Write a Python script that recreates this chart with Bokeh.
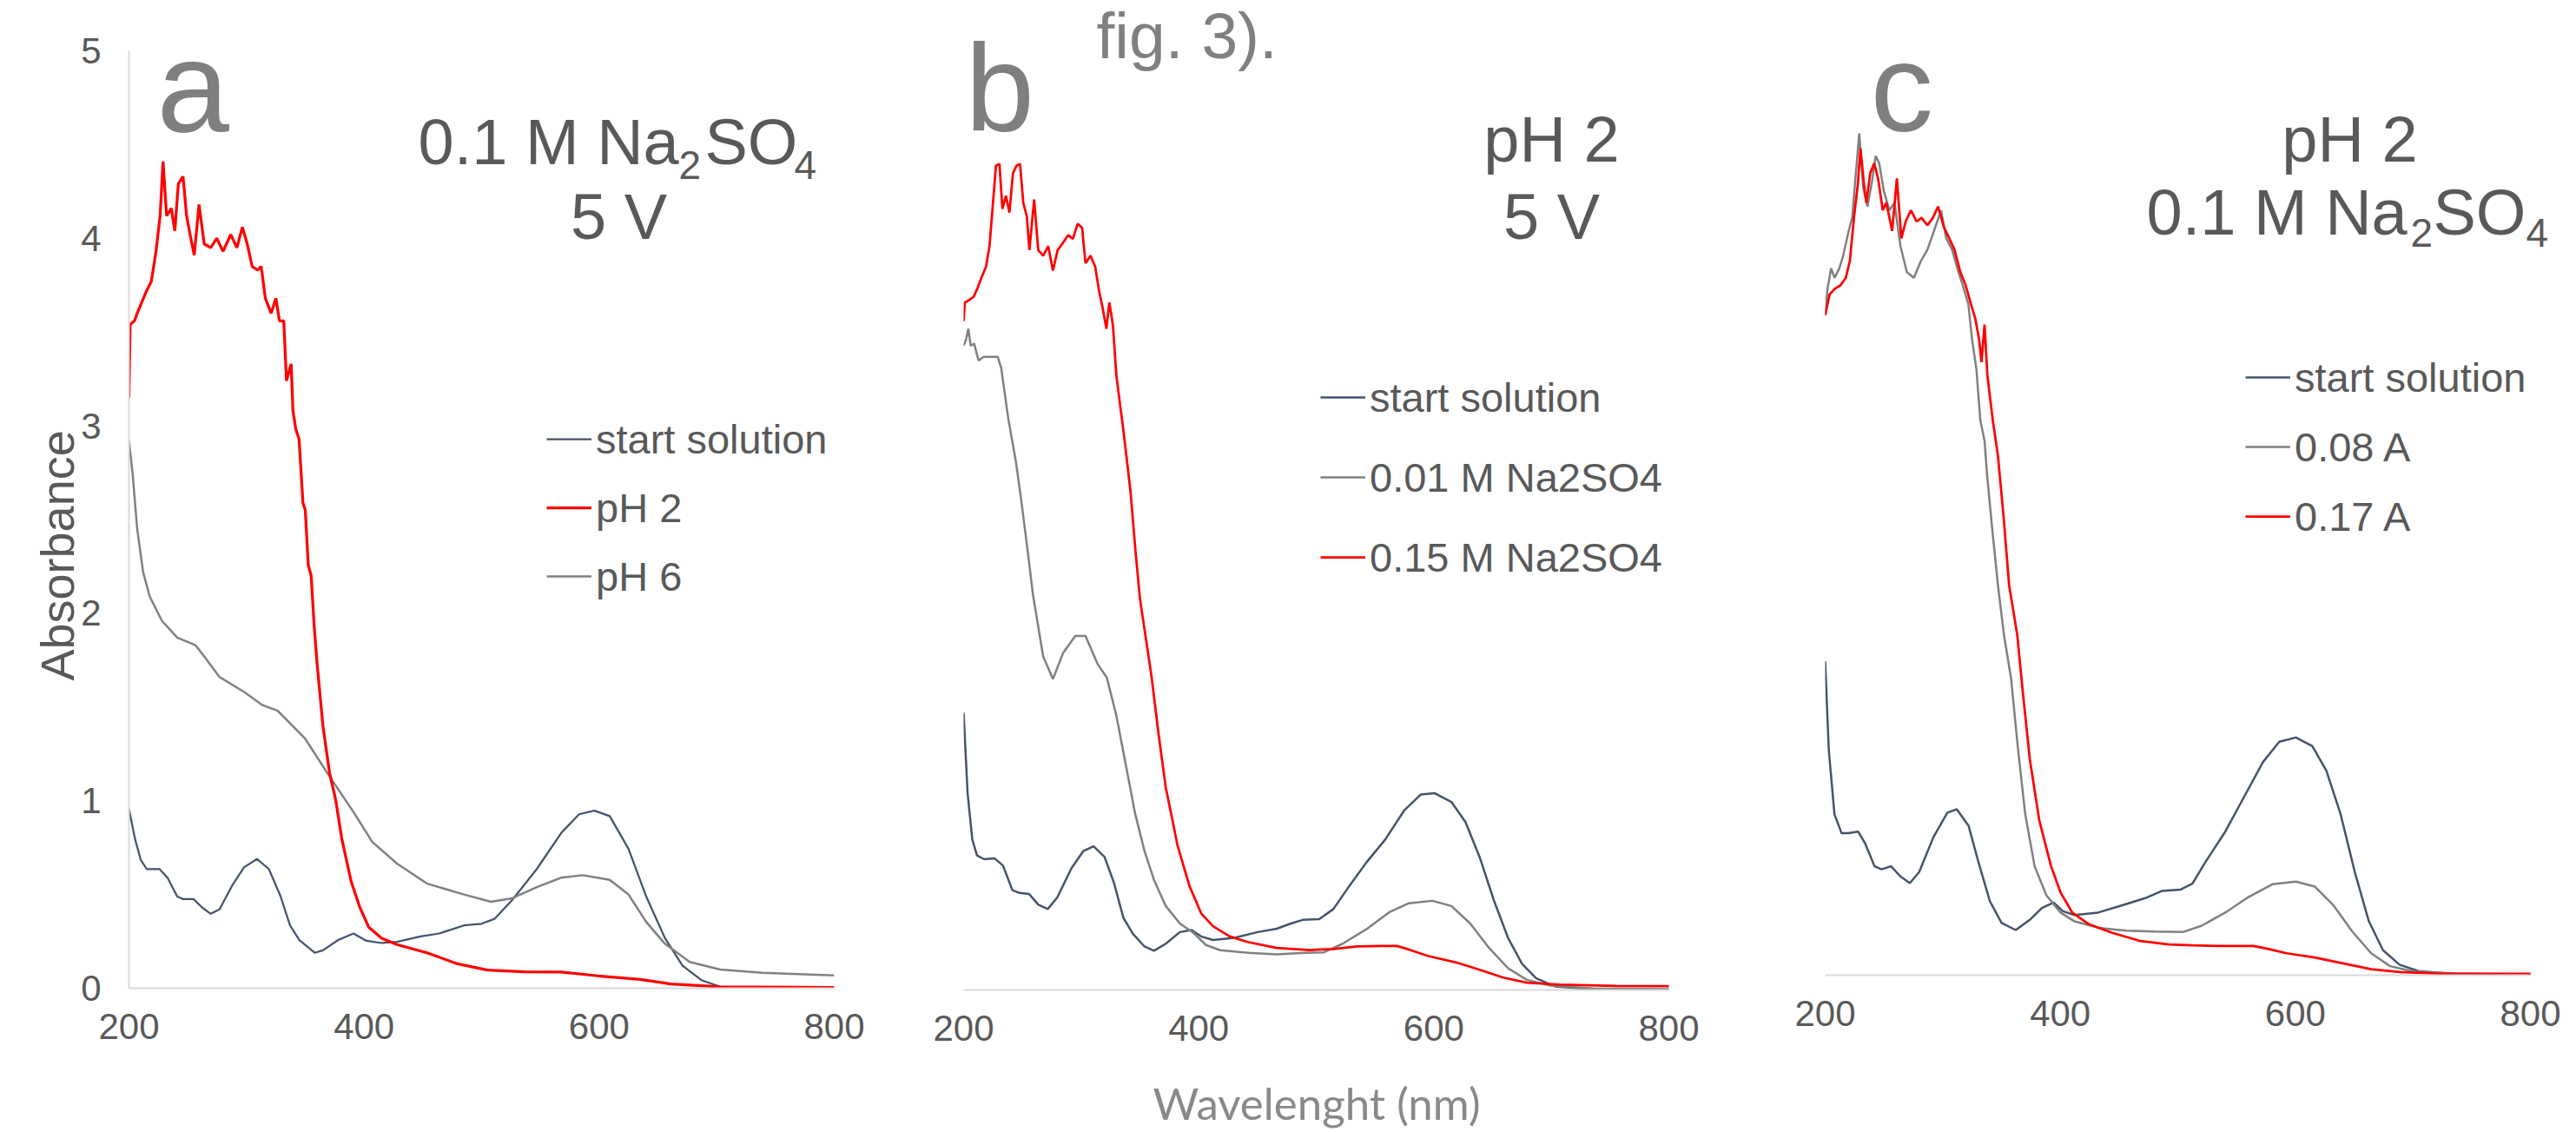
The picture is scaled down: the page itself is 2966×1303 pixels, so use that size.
import math
from bokeh.plotting import figure
from bokeh.layouts import row
from bokeh.models import Label, Legend, LegendItem, Range1d, FixedTicker, Title
from bokeh.embed import file_html
from bokeh.resources import INLINE

# ---------------- data ----------------
X_TICKS = [200, 400, 600, 800]
Y_TICKS_A = [0, 1, 2, 3, 4, 5]

# panel a
A_START_WL = [200, 205, 210, 215, 226, 233, 241, 246, 255, 262, 269.5, 277, 288, 298, 309, 319, 329, 337, 345,
              358, 365, 378, 391, 402, 415, 428, 448, 464, 485, 500, 511, 526, 547, 568, 583, 596, 609, 625,
              640, 656, 671, 687, 703, 739, 800]
A_START_ABS = [0.957, 0.80, 0.685, 0.636, 0.636, 0.587, 0.49, 0.475, 0.475, 0.432, 0.397, 0.42, 0.55, 0.646,
               0.689, 0.636, 0.49, 0.335, 0.257, 0.189, 0.202, 0.257, 0.292, 0.253, 0.241, 0.247, 0.276, 0.292,
               0.335, 0.344, 0.37, 0.47, 0.636, 0.83, 0.928, 0.947, 0.918, 0.743, 0.49, 0.267, 0.12, 0.043,
               0.008, 0.0, 0.0]
A_PH2_WL = [200, 201, 204.7, 207, 211, 215, 219, 223, 226.5, 229, 232, 236, 239, 242, 246, 249, 252, 255.5,
            259.6, 264, 269.5, 274.7, 280, 286.6, 291.8, 296.5, 300.6, 304.8, 309.4, 312.5, 316, 321, 325, 328,
            331.7, 334, 338, 339.5, 342, 344.7, 348, 350, 352.5, 355, 357.6, 360, 365, 370.6, 376, 381, 389,
            396.5, 404, 415, 428, 453.6, 479.5, 505, 536.6, 567.7, 599, 635, 661, 703, 800]
A_PH2_ABS = [3.15, 3.54, 3.56, 3.60, 3.66, 3.72, 3.77, 3.93, 4.12, 4.41, 4.12, 4.16, 4.04, 4.29, 4.33, 4.12,
             4.02, 3.91, 4.18, 3.97, 3.95, 4.00, 3.93, 4.02, 3.95, 4.06, 3.97, 3.85, 3.83, 3.85, 3.68, 3.60,
             3.68, 3.56, 3.56, 3.24, 3.33, 3.08, 2.98, 2.93, 2.59, 2.55, 2.26, 2.20, 1.93, 1.735, 1.40, 1.15,
             1.00, 0.80, 0.57, 0.43, 0.325, 0.267, 0.233, 0.189, 0.13, 0.097, 0.088, 0.086, 0.066, 0.047,
             0.023, 0.008, 0.004]
A_PH6_WL = [200, 203, 207, 212, 217.6, 228, 241, 256.5, 264, 277, 298, 313.6, 326.5, 350, 370.6, 391, 407,
            428, 453.6, 485, 508, 526, 547, 568, 586, 609, 625, 640, 656, 677, 703, 739, 800]
A_PH6_ABS = [2.92, 2.75, 2.45, 2.22, 2.09, 1.96, 1.87, 1.83, 1.77, 1.66, 1.58, 1.51, 1.48, 1.33, 1.13, 0.94,
             0.78, 0.665, 0.558, 0.50, 0.461, 0.48, 0.539, 0.59, 0.603, 0.578, 0.50, 0.354, 0.237, 0.14, 0.10,
             0.082, 0.068]

# panel b
B_START_WL = [200, 203.4, 207.4, 211.4, 217.4, 226.3, 233.5, 241.5, 247.5, 255.6, 263.6, 271.6, 279.7, 291.7,
              301.8, 310.6, 319.9, 327.9, 335.9, 343.9, 353.9, 362, 372, 384, 394, 402, 412.2, 430.3, 450.3,
              466.4, 478.5, 488.5, 502.5, 514.6, 526.6, 542.6, 558.7, 574.8, 588.9, 600.9, 615, 627, 639,
              651.1, 663.2, 675.2, 687.2, 703.3, 735.4, 800]
B_START_ABS = [1.48, 1.05, 0.803, 0.718, 0.698, 0.703, 0.664, 0.533, 0.518, 0.513, 0.455, 0.432, 0.494, 0.649,
               0.741, 0.767, 0.71, 0.572, 0.386, 0.301, 0.232, 0.209, 0.247, 0.309, 0.32, 0.286, 0.267, 0.278,
               0.309, 0.327, 0.355, 0.374, 0.378, 0.432, 0.541, 0.68, 0.803, 0.958, 1.043, 1.05, 1.004, 0.896,
               0.71, 0.479, 0.278, 0.139, 0.062, 0.019, 0.003, 0.0]
B_LOW_WL = [200, 202, 204, 206, 209, 212.7, 217, 223, 229, 232, 238, 244.5, 248.7, 255, 259, 267.7, 276,
            284.7, 295, 303.7, 314, 321.8, 329.9, 337.9, 345.9, 353.9, 362, 372, 384, 396.2, 406.2, 418.2,
            442.3, 466.4, 490.5, 506.5, 522.5, 542.6, 562.7, 578.8, 598.9, 615, 631, 647.1, 663.2, 679.2,
            699.3, 735.4, 800]
B_LOW_ABS = [3.44, 3.47, 3.53, 3.44, 3.45, 3.36, 3.38, 3.38, 3.38, 3.32, 3.05, 2.82, 2.63, 2.32, 2.11, 1.78,
             1.66, 1.80, 1.89, 1.89, 1.74, 1.668, 1.467, 1.205, 0.942, 0.741, 0.587, 0.448, 0.355, 0.301, 0.24,
             0.212, 0.198, 0.19, 0.198, 0.201, 0.247, 0.324, 0.417, 0.463, 0.476, 0.448, 0.355, 0.224, 0.116,
             0.054, 0.023, 0.008, 0.005]
B_HIGH_WL = [200, 201, 204, 208.5, 212, 215, 219, 222, 224.6, 227.5, 230.5, 233, 236, 239, 242, 245, 248,
             250.8, 253.8, 256, 260, 263.5, 267.7, 272, 276, 280, 284.7, 289, 293, 297, 300.8, 303.7, 308,
             312, 315, 318.6, 321.5, 324, 327, 330, 333, 335.5, 337.6, 342, 346, 350, 360, 366, 372, 382,
             392.1, 402.1, 412.2, 426.3, 442.3, 466.4, 494.5, 514.6, 534.7, 554.7, 568.8, 578.8, 594.8, 619,
             639, 659.1, 679.2, 707.4, 755.5, 800]
B_HIGH_ABS = [3.57, 3.67, 3.68, 3.70, 3.75, 3.80, 3.86, 3.97, 4.17, 4.40, 4.41, 4.17, 4.24, 4.15, 4.36, 4.40,
              4.41, 4.20, 4.13, 3.95, 4.22, 3.95, 3.92, 3.97, 3.84, 3.95, 3.99, 4.03, 4.01, 4.09, 4.07, 3.88,
              3.92, 3.86, 3.74, 3.63, 3.53, 3.67, 3.55, 3.28, 3.13, 3.01, 2.90, 2.66, 2.36, 2.09, 1.668, 1.359,
              1.081, 0.772, 0.556, 0.409, 0.34, 0.286, 0.255, 0.224, 0.213, 0.219, 0.232, 0.235, 0.235, 0.216,
              0.182, 0.147, 0.108, 0.066, 0.039, 0.028, 0.022, 0.02]

# panel c
C_START_WL = [200, 203.1, 207.9, 213.9, 219.9, 228, 233.9, 242, 248, 256, 264, 272, 280, 292, 304, 312, 322,
              330, 340.1, 350.1, 362.1, 374.1, 384.2, 394.2, 402.2, 412.2, 432.2, 452.2, 472.3, 486.3, 502.4,
              512.4, 524.4, 540.4, 556.4, 572.5, 586.4, 600.5, 614.5, 626.5, 638.5, 650.6, 662.6, 674.6,
              688.6, 704.6, 736.7, 800]
C_START_ABS = [1.674, 1.199, 0.859, 0.758, 0.758, 0.766, 0.704, 0.581, 0.565, 0.581, 0.527, 0.491, 0.55,
               0.735, 0.867, 0.885, 0.797, 0.612, 0.395, 0.279, 0.241, 0.295, 0.357, 0.388, 0.341, 0.321,
               0.334, 0.372, 0.411, 0.449, 0.457, 0.488, 0.612, 0.766, 0.951, 1.137, 1.245, 1.268, 1.222,
               1.09, 0.859, 0.55, 0.287, 0.133, 0.056, 0.022, 0.006, 0.002]
C_LOW_WL = [200, 202, 205, 208, 212, 215, 220, 223, 226, 229, 232.4, 236, 240, 243, 246, 250, 254.6, 259, 264,
            269.5, 275.5, 281.5, 287, 292.6, 298.6, 303, 308, 312.5, 317, 321.8, 325, 328.7, 332, 335.6, 338,
            342.6, 347, 352.1, 358.1, 364.2, 370.2, 378.2, 388.2, 400.2, 412.2, 432.2, 456.3, 480.3, 504.4,
            520.4, 540.4, 560.4, 580.5, 600.5, 616.5, 632.5, 648.5, 664.5, 680.6, 700.6, 736.7, 800]
C_LOW_ABS = [3.52, 3.66, 3.77, 3.72, 3.77, 3.83, 3.97, 4.04, 4.27, 4.49, 4.20, 4.10, 4.24, 4.37, 4.33, 4.18,
             4.08, 4.12, 3.89, 3.75, 3.72, 3.81, 3.87, 3.97, 4.08, 3.93, 3.87, 3.77, 3.68, 3.58, 3.39, 3.23,
             2.96, 2.85, 2.65, 2.35, 2.08, 1.816, 1.585, 1.199, 0.859, 0.581, 0.426, 0.334, 0.287, 0.253,
             0.238, 0.233, 0.23, 0.264, 0.334, 0.418, 0.485, 0.499, 0.473, 0.372, 0.233, 0.117, 0.048, 0.02,
             0.009, 0.005]
C_HIGH_WL = [200, 203.7, 208, 213, 217.6, 221, 224.5, 227.8, 230, 233, 235, 238.4, 241.7, 245, 249, 252, 257,
             261, 264.8, 268.5, 273, 277.8, 282, 287, 291.7, 296, 301, 305.6, 310, 315, 319.5, 324, 327.8, 331,
             333, 335.6, 338, 342.6, 347, 352, 356.5, 363.4, 368.2, 374.1, 382.1, 392.2, 400.2, 410.2, 424.3,
             444.3, 468.3, 492.3, 512.4, 536.4, 564.4, 576.5, 592.5, 616.5, 640.5, 664.5, 688.6, 720.6, 800]
C_HIGH_ABS = [3.52, 3.63, 3.66, 3.68, 3.72, 3.81, 4.04, 4.22, 4.41, 4.22, 4.12, 4.28, 4.33, 4.25, 4.08, 4.12,
              3.97, 4.25, 3.93, 4.02, 4.08, 4.02, 4.04, 4.00, 4.04, 4.10, 3.99, 3.93, 3.87, 3.75, 3.68, 3.58,
              3.50, 3.39, 3.27, 3.47, 3.20, 2.96, 2.77, 2.43, 2.08, 1.816, 1.507, 1.152, 0.828, 0.581, 0.442,
              0.334, 0.272, 0.226, 0.182, 0.164, 0.159, 0.156, 0.156, 0.141, 0.117, 0.094, 0.063, 0.032,
              0.017, 0.009, 0.008]

# ---------------- styling ----------------
NAVY = "#44546A"
GRAY = "#808080"
RED = "#FF0000"
TXT = "#595959"
LETTER = "#7F7F7F"
AXIS = "#D9D9D9"
FONT = "Liberation Sans"
PPU = 1079 / 5.0          # pixels per absorbance unit
PPN = 812 / 600.0         # pixels per nm
FIG_H = 1302


class Panel:
    """origin_x: page x of the figure; frame given in page px (left, right, top, bottom)."""

    def __init__(self, origin_x, width, f_left, f_right, f_top, f_bottom, x0):
        left = f_left - origin_x
        right = origin_x + width - f_right
        top = f_top
        bottom = FIG_H - f_bottom
        self.fl, self.fb = f_left, f_bottom
        self.x0 = x0
        x1 = x0 + (f_right - f_left) / PPN
        y1 = (f_bottom - f_top) / PPU
        p = figure(width=width, height=FIG_H, output_backend="svg", toolbar_location=None, title=None,
                   x_range=Range1d(x0, x1), y_range=Range1d(0, y1),
                   min_border_left=left, min_border_right=right,
                   min_border_top=top, min_border_bottom=bottom)
        p.frame_align = False
        p.outline_line_color = None
        p.xgrid.visible = False
        p.ygrid.visible = False
        p.background_fill_color = "white"
        p.border_fill_color = "white"
        ax = p.xaxis[0]
        ax.ticker = FixedTicker(ticks=X_TICKS)
        ax.bounds = (200, 800)
        ax.axis_line_color = AXIS
        ax.axis_line_width = 2
        ax.major_tick_line_color = None
        ax.minor_tick_line_color = None
        ax.major_tick_out = 0
        ax.major_tick_in = 0
        ax.minor_tick_out = 0
        ax.major_label_standoff = 29
        ax.major_label_text_font = FONT
        ax.major_label_text_font_size = "42px"
        ax.major_label_text_color = TXT
        self.p = p

    def xy(self, xp, yp):
        return self.x0 + (xp - self.fl) / PPN, (self.fb - yp) / PPU

    def text(self, xp, base_y, s, size, color=TXT, align="left", font=FONT):
        # anchor at the middle of the text box; base_y is the wanted baseline (page px)
        x, y = self.xy(xp, base_y - 0.35 * size - 3)
        self.p.add_layout(Label(x=x, y=y, text=s, text_font=font, text_font_size=f"{size}px",
                                text_color=color, text_align=align, text_baseline="middle"))

    def legend(self, items, xp, y_last_center, spacing):
        lg = Legend(items=[LegendItem(label=l, renderers=[r]) for l, r in items],
                    location=(xp - self.fl, self.fb - (y_last_center + 28)),
                    glyph_width=52, glyph_height=56, label_height=56, label_standoff=5,
                    spacing=spacing, padding=0, margin=0, border_line_color=None,
                    background_fill_alpha=0, label_text_font=FONT, label_text_font_size="47px",
                    label_text_color=TXT)
        self.p.add_layout(lg)


# ---------------- panel a ----------------
A = Panel(origin_x=0, width=1027, f_left=148, f_right=960, f_top=58, f_bottom=1137, x0=200)
pa = A.p
ya = pa.yaxis[0]
ya.ticker = FixedTicker(ticks=Y_TICKS_A)
ya.axis_line_color = AXIS
ya.axis_line_width = 2
ya.major_tick_line_color = None
ya.minor_tick_line_color = None
ya.major_tick_out = 0
ya.major_tick_in = 0
ya.minor_tick_out = 0
ya.major_label_standoff = 32
ya.major_label_text_font = FONT
ya.major_label_text_font_size = "42px"
ya.major_label_text_color = TXT

# y-axis title, placed like the reference (below the centre of the axis)
pa.add_layout(Title(text="Absorbance", align="left", offset=354, vertical_align="middle", standoff=-13,
                    text_font=FONT, text_font_size="54px", text_font_style="normal",
                    text_color=TXT), "left")

ra1 = pa.line(A_START_WL, A_START_ABS, line_color=NAVY, line_width=2.25)
ra3 = pa.line(A_PH6_WL, A_PH6_ABS, line_color=GRAY, line_width=2.5)
ra2 = pa.line(A_PH2_WL, A_PH2_ABS, line_color=RED, line_width=3.25)
A.legend([("start solution", ra1), ("pH 2", ra2), ("pH 6", ra3)], 629, 663, 23)

A.text(180, 155, "a", 150, color=LETTER)
A.text(481, 191.5, "0.1 M Na", 74)
A.text(781, 209, "2", 46)
A.text(811, 191.5, "SO", 74)
A.text(914, 209, "4", 46)
A.text(712, 278, "5 V", 74, align="center")

# ---------------- panel b ----------------
B = Panel(origin_x=1027, width=995, f_left=1109, f_right=1922, f_top=0, f_bottom=1140, x0=200)
pb = B.p
pb.yaxis.visible = False
xb = pb.xaxis[0]
xb.axis_label = "Wavelenght (nm)"
xb.axis_label_text_font = "Lato"
xb.axis_label_text_font_size = "51px"
xb.axis_label_text_font_style = "normal"
xb.axis_label_text_color = "#898989"
xb.axis_label_standoff = 38
rb1 = pb.line(B_START_WL, B_START_ABS, line_color=NAVY, line_width=2.5)
rb2 = pb.line(B_LOW_WL, B_LOW_ABS, line_color=GRAY, line_width=2.5)
rb3 = pb.line(B_HIGH_WL, B_HIGH_ABS, line_color=RED, line_width=2.75)
B.legend([("start solution", rb1), ("0.01 M Na2SO4", rb2), ("0.15 M Na2SO4", rb3)], 1520, 642, 36)

B.text(1111, 154, "b", 143, color=LETTER)
B.text(1262, 70, "fig. 3).", 75, color=GRAY)
B.text(1786, 189, "pH 2", 74, align="center")
B.text(1786, 278, "5 V", 74, align="center")

# ---------------- panel c ----------------
C = Panel(origin_x=2022, width=936, f_left=2101, f_right=2945, f_top=0, f_bottom=1122, x0=200)
pc = C.p
pc.yaxis.visible = False
rc1 = pc.line(C_START_WL, C_START_ABS, line_color=NAVY, line_width=2.5)
rc2 = pc.line(C_LOW_WL, C_LOW_ABS, line_color=GRAY, line_width=2.5)
rc3 = pc.line(C_HIGH_WL, C_HIGH_ABS, line_color=RED, line_width=2.75)
C.legend([("start solution", rc1), ("0.08 A", rc2), ("0.17 A", rc3)], 2585, 594, 24)

C.text(2153, 154, "c", 145, color=LETTER)
C.text(2705, 189, "pH 2", 74, align="center")
C.text(2471, 272.6, "0.1 M Na", 74)
C.text(2775, 287, "2", 46)
C.text(2801, 272.6, "SO", 74)
C.text(2908, 287, "4", 46)

layout = row(pa, pb, pc, spacing=0)
open("out.html", "w").write(file_html(layout, INLINE))
